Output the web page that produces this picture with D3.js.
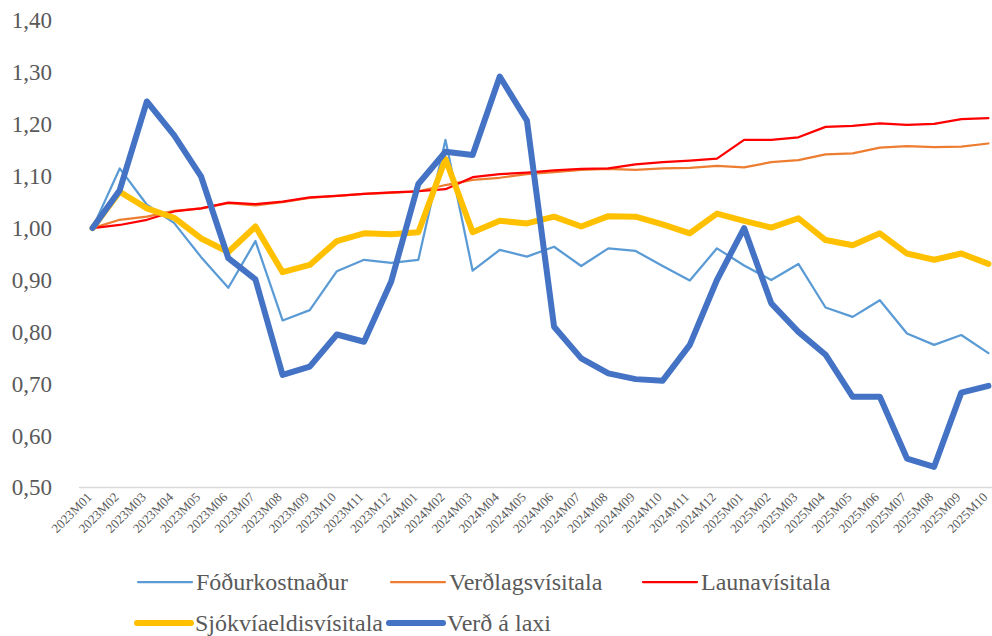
<!DOCTYPE html>
<html>
<head>
<meta charset="utf-8">
<script src="https://cdn.jsdelivr.net/npm/d3@7"></script>
<style>
  body { margin: 0; background: #fff; }
</style>
</head>
<body>
<div id="chart"></div>
<script>
// months on the x axis
const months = [
  "2023M01","2023M02","2023M03","2023M04","2023M05","2023M06","2023M07","2023M08","2023M09","2023M10","2023M11","2023M12",
  "2024M01","2024M02","2024M03","2024M04","2024M05","2024M06","2024M07","2024M08","2024M09","2024M10","2024M11","2024M12",
  "2025M01","2025M02","2025M03","2025M04","2025M05","2025M06","2025M07","2025M08","2025M09","2025M10"
];

const fodur = [1.00, 1.115, 1.045, 1.01, 0.944, 0.885, 0.975, 0.822, 0.842, 0.917, 0.939, 0.933,
  0.939, 1.17, 0.918, 0.958, 0.945, 0.964, 0.927, 0.961, 0.956, 0.927, 0.899, 0.961,
  0.928, 0.90, 0.931, 0.847, 0.829, 0.861, 0.797, 0.775, 0.794, 0.759];

const verdlag = [1.00, 1.016, 1.022, 1.033, 1.038, 1.048, 1.044, 1.050, 1.058, 1.062, 1.066, 1.068,
  1.071, 1.083, 1.093, 1.097, 1.104, 1.108, 1.112, 1.114, 1.112, 1.115, 1.116, 1.120,
  1.117, 1.127, 1.131, 1.142, 1.144, 1.155, 1.158, 1.156, 1.157, 1.163];

const launa = [1.00, 1.006, 1.016, 1.032, 1.038, 1.049, 1.046, 1.051, 1.059, 1.062, 1.066, 1.069,
  1.071, 1.075, 1.098, 1.104, 1.107, 1.111, 1.114, 1.115, 1.123, 1.127, 1.130, 1.134,
  1.170, 1.170, 1.175, 1.195, 1.197, 1.202, 1.199, 1.201, 1.210, 1.212];

const sjokvi = [1.00, 1.07, 1.038, 1.02, 0.98, 0.954, 1.003, 0.915, 0.929, 0.975, 0.99, 0.988,
  0.992, 1.133, 0.992, 1.014, 1.009, 1.022, 1.003, 1.023, 1.022, 1.007, 0.99, 1.028,
  1.014, 1.001, 1.019, 0.977, 0.967, 0.99, 0.951, 0.939, 0.951, 0.931];

const laxi = [1.00, 1.073, 1.244, 1.179, 1.099, 0.942, 0.901, 0.717, 0.733, 0.795, 0.781, 0.897,
  1.085, 1.147, 1.141, 1.292, 1.207, 0.81, 0.749, 0.72, 0.709, 0.706, 0.775, 0.90,
  1.00, 0.855, 0.80, 0.756, 0.675, 0.675, 0.556, 0.54, 0.683, 0.696];

const yTicks = [0.5, 0.6, 0.7, 0.8, 0.9, 1.0, 1.1, 1.2, 1.3, 1.4];

const series = [
  { name: "Fóðurkostnaður", values: fodur, color: "#5B9BD5", width: 2.25 },
  { name: "Verðlagsvísitala", values: verdlag, color: "#ED7D31", width: 2.25 },
  { name: "Launavísitala", values: launa, color: "#FF0000", width: 2.25 },
  { name: "Sjókvíaeldisvísitala", values: sjokvi, color: "#FFC000", width: 6 },
  { name: "Verð á laxi", values: laxi, color: "#4472C4", width: 6 }
];

const FONT = "'Liberation Serif', 'Times New Roman', serif";
const width = 992, height = 636;

const svg = d3.select("#chart")
  .append("svg")
  .attr("width", width)
  .attr("height", height)
  .style("font-family", FONT);

// x scale: one band per month
let x = d3.scaleBand()
  .domain(months)
  .range([79, 1002]);

let y = d3.scaleLinear()
  .domain([0.5, 1.4])
  .range([487.6, 20.5]);

// y labels
let yAxis = svg.append("g")
  .attr("transform", "translate(62,0)")
  .call(d3.axisLeft(y).tickValues(yTicks).tickSize(0).tickPadding(10)
    .tickFormat(d => d3.format(".2f")(d).replace(".", ",")));
yAxis.select(".domain").remove();
yAxis.attr("font-family", null);
yAxis.selectAll("text")
  .style("font-size", "23px")
  .style("font-family", FONT)
  .attr("fill", "#595959");

// x axis line
svg.append("line")
  .attr("x1", 79).attr("x2", width)
  .attr("y1", y(0.5)).attr("y2", y(0.5))
  .attr("stroke", "#d9d9d9")
  .attr("stroke-width", 1.5);

// x labels, rotated
svg.append("g").selectAll("text")
  .data(months)
  .enter()
  .append("text")
  .attr("transform", d => `translate(${x(d) + x.bandwidth() / 2}, 498) rotate(-45)`)
  .style("text-anchor", "end")
  .style("font-family", FONT)
  .style("font-size", "13px")
  .attr("fill", "#595959")
  .text(d => d);

let line = d3.line()
  .x((d, i) => x(months[i]) + x.bandwidth() / 2)
  .y(d => y(d));

svg.append("g").selectAll("path")
  .data(series)
  .enter()
  .append("path")
  .attr("fill", "none")
  .attr("stroke", d => d.color)
  .attr("stroke-width", d => d.width)
  .attr("stroke-linejoin", "round")
  .attr("stroke-linecap", "round")
  .attr("d", d => line(d.values));

// legend
const legendPos = [
  { x: 138, y: 582 }, { x: 391, y: 582 }, { x: 643, y: 582 },
  { x: 137, y: 623 }, { x: 389, y: 623 }
];
let legend = svg.append("g").selectAll("g")
  .data(series)
  .enter()
  .append("g")
  .attr("transform", (d, i) => `translate(${legendPos[i].x}, ${legendPos[i].y})`);

legend.append("line")
  .attr("x1", 0).attr("x2", 54)
  .attr("y1", 0).attr("y2", 0)
  .attr("stroke", d => d.color)
  .attr("stroke-width", d => d.width)
  .attr("stroke-linecap", "round");

legend.append("text")
  .attr("x", 58)
  .attr("y", 8)
  .style("font-family", FONT)
  .style("font-size", "24px")
  .attr("fill", "#595959")
  .text(d => d.name);
</script>
</body>
</html>
